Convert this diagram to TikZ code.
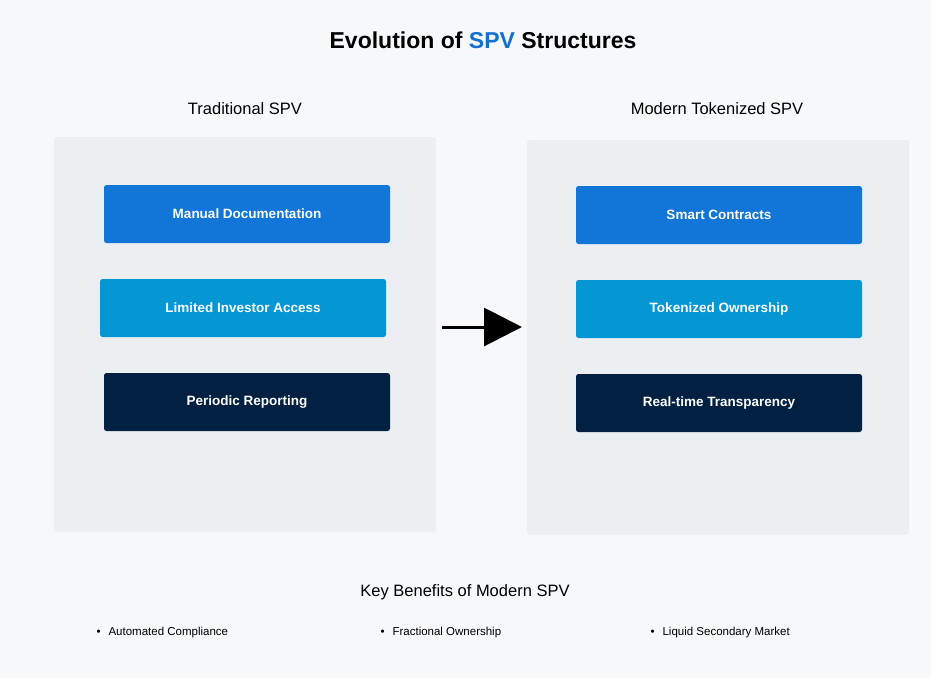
\documentclass[tikz,border=0pt]{standalone}
\usepackage{fontspec}
\setmainfont{Liberation Sans}
\usetikzlibrary{arrows.meta}
\definecolor{bg}{HTML}{F7F8FA}
\definecolor{panel}{HTML}{ECEFF1}
\definecolor{cA}{HTML}{1276D8}
\definecolor{cB}{HTML}{0596D4}
\definecolor{cC}{HTML}{022142}
\definecolor{tblue}{HTML}{1470D0}
\begin{document}
\begin{tikzpicture}[x=1pt,y=-1pt,
  panelbox/.style={fill=panel,rounded corners=3pt},
  item/.style={text=white,font=\fontsize{13.5}{16}\selectfont\bfseries,rounded corners=2.5pt,minimum width=286pt,minimum height=58pt,inner sep=0pt},
  head/.style={font=\fontsize{16.5}{20}\selectfont},
  bul/.style={font=\fontsize{11.5}{14}\selectfont,anchor=west}]
\fill[bg] (0,0) rectangle (931,678);
\useasboundingbox (0,0) rectangle (931,678);
\node[font=\fontsize{23}{28}\selectfont\bfseries] (title) at (483,40) {Evolution of \textcolor{tblue}{SPV} Structures};
\fill[panelbox] (54,137) rectangle (436,532);
\fill[panelbox] (527,140) rectangle (909,535);
\node[head] (lh) at (245,109) {Traditional SPV};
\node[head] (rh) at (717,109) {Modern Tokenized SPV};
\node[item,fill=cA] (l1) at (247,214) {Manual Documentation};
\node[item,fill=cB] (l2) at (243,308) {Limited Investor Access};
\node[item,fill=cC] (l3) at (247,402) {Periodic Reporting};
\node[item,fill=cA] (r1) at (719,215) {Smart Contracts};
\node[item,fill=cB] (r2) at (719,309) {Tokenized Ownership};
\node[item,fill=cC] (r3) at (719,403) {Real-time Transparency};
\coordinate (a1) at (442,327);
\coordinate (a2) at (522,327);
\draw[line width=3pt,-{Triangle[length=38pt,width=38pt]}] (a1) -- (a2);
\node[head] (kb) at (465,592) {Key Benefits of Modern SPV};
\node[bul] (b1) at (93,633) {•\hspace{8pt}Automated Compliance};
\node[bul] (b2) at (377,633) {•\hspace{8pt}Fractional Ownership};
\node[bul] (b3) at (647,633) {•\hspace{8pt}Liquid Secondary Market};
\end{tikzpicture}
\end{document}
